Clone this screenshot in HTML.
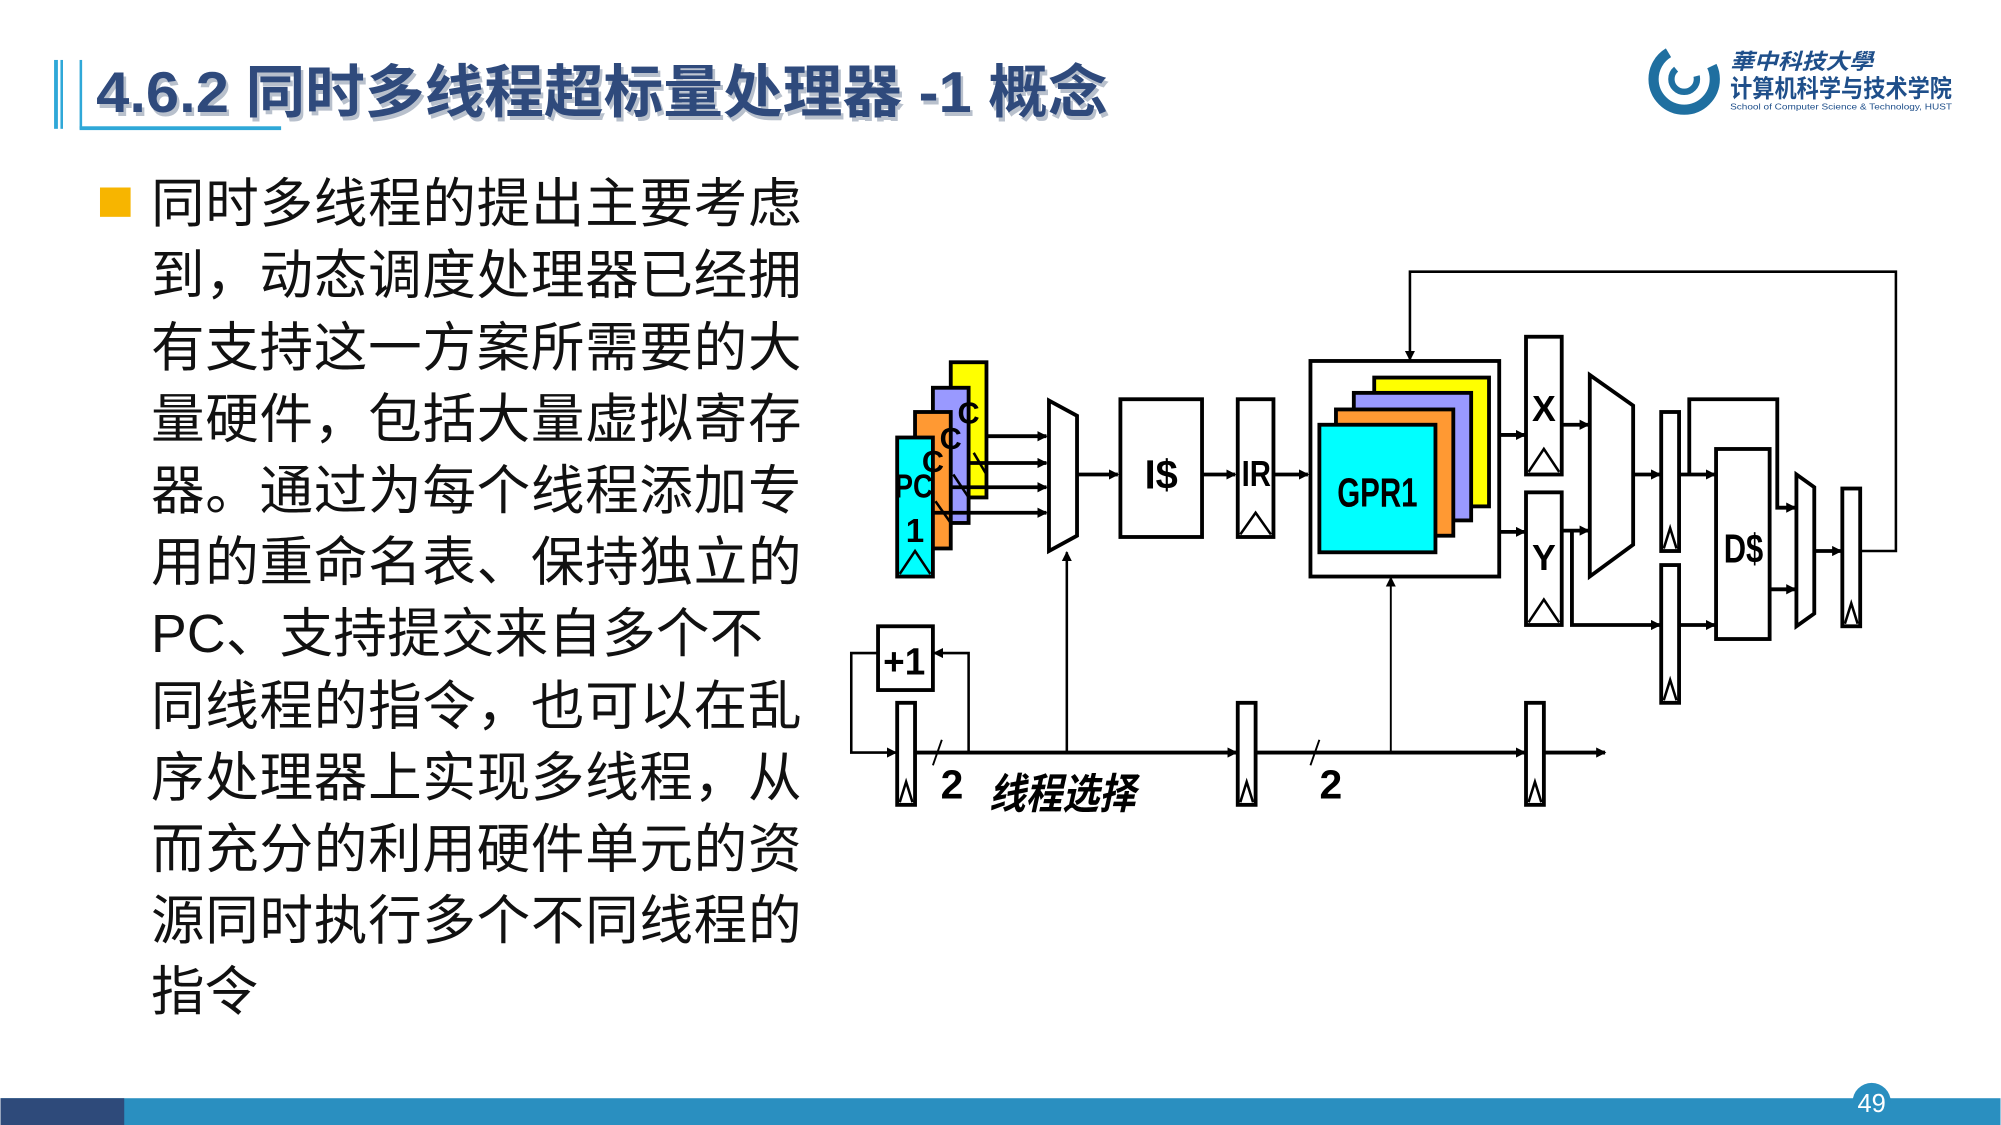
<!DOCTYPE html>
<html><head><meta charset="utf-8"><style>
html,body{margin:0;padding:0;background:#fff;}
svg{display:block;}
text{font-family:"Liberation Sans","Noto Sans CJK SC",sans-serif;}
</style></head><body>
<svg width="2001" height="1125" viewBox="0 0 1568 882" xmlns="http://www.w3.org/2000/svg">
<defs>
<marker id="a" markerWidth="8" markerHeight="8" refX="7" refY="4" orient="auto" markerUnits="userSpaceOnUse"><path d="M0,0 L8,4 L0,8 z" fill="#000"/></marker>
</defs>
<!-- header -->
<rect x="42" y="47" width="3" height="54" fill="#2fa8d8"/>
<rect x="47" y="47" width="2" height="54" fill="#2fa8d8"/>
<rect x="62" y="47" width="2" height="54" fill="#2fa8d8"/>
<rect x="62" y="99" width="158" height="3" fill="#2fa8d8"/>
<text x="77" y="91" font-size="45" font-weight="bold" fill="#b8c0cc" textLength="793" lengthAdjust="spacingAndGlyphs">4.6.2 同时多线程超标量处理器 -1 概念</text>
<text x="75" y="88" font-size="45" font-weight="bold" fill="#2f4a7c" textLength="793" lengthAdjust="spacingAndGlyphs">4.6.2 同时多线程超标量处理器 -1 概念</text>
<!-- logo -->
<circle cx="1320" cy="62" r="24" fill="none" stroke="#1f6fa0" stroke-width="8" stroke-dasharray="100 40"/>
<circle cx="1320" cy="62" r="10" fill="none" stroke="#1f6fa0" stroke-width="5" stroke-dasharray="40 20"/>
<text x="1356" y="54" font-size="17" font-weight="bold" fill="#1f4f8a" font-style="italic" textLength="112" lengthAdjust="spacingAndGlyphs">華中科技大學</text>
<text x="1356" y="76" font-size="19" font-weight="bold" fill="#1f4f8a" textLength="174" lengthAdjust="spacingAndGlyphs">计算机科学与技术学院</text>
<text x="1356" y="86" font-size="6.5" fill="#1f4f8a" textLength="174" lengthAdjust="spacingAndGlyphs">School of Computer Science &amp; Technology, HUST</text>
<!-- bullet text -->
<rect x="78" y="147" width="24" height="23" fill="#f7b500"/>
<g font-size="42" fill="#111">
<text x="118" y="174" textLength="510">同时多线程的提出主要考虑</text>
<text x="118" y="230" textLength="510">到，动态调度处理器已经拥</text>
<text x="118" y="287" textLength="510">有支持这一方案所需要的大</text>
<text x="118" y="343" textLength="510">量硬件，包括大量虚拟寄存</text>
<text x="118" y="399" textLength="510">器。通过为每个线程添加专</text>
<text x="118" y="455" textLength="510">用的重命名表、保持独立的</text>
<text x="118" y="511" textLength="480">PC、支持提交来自多个不</text>
<text x="118" y="568" textLength="510">同线程的指令，也可以在乱</text>
<text x="118" y="624" textLength="510">序处理器上实现多线程，从</text>
<text x="118" y="680" textLength="510">而充分的利用硬件单元的资</text>
<text x="118" y="736" textLength="510">源同时执行多个不同线程的</text>
<text x="118" y="792">指令</text>
</g>
<!-- footer -->
<rect x="0" y="861" width="1568" height="21" fill="#2a8fc0"/>
<rect x="0" y="861" width="97" height="21" fill="#2e4a7a"/>
<circle cx="1467" cy="864" r="15" fill="#2a8fc0"/>
<text x="1467" y="872" font-size="20" fill="#fff" text-anchor="middle">49</text>
<!-- diagram -->
<g stroke="#000" stroke-width="3" fill="none">
<rect x="745" y="284" width="28" height="106" fill="#ffff00"/>
<rect x="731" y="304" width="28" height="106" fill="#9999ff"/>
<rect x="717" y="323" width="28" height="107" fill="#ff9933"/>
<rect x="703" y="343" width="28" height="109" fill="#00ffff"/>
<path d="M705,450 L717,432 L729,450" stroke-width="2"/>
<line x1="745" y1="410" x2="733" y2="393" stroke-width="2"/>
<line x1="759" y1="390" x2="747" y2="372" stroke-width="2"/>
<line x1="773" y1="372" x2="763" y2="355" stroke-width="2"/>
<g marker-end="url(#a)">
<line x1="773" y1="342" x2="820" y2="342"/>
<line x1="759" y1="363" x2="820" y2="363"/>
<line x1="745" y1="382" x2="820" y2="382"/>
<line x1="731" y1="402" x2="820" y2="402"/>
</g>
<path d="M822,314 L844,326 L844,420 L822,432 Z" fill="#fff"/>
<line x1="844" y1="372" x2="876" y2="372" marker-end="url(#a)"/>
<rect x="878" y="313" width="64" height="108" fill="#fff"/>
<line x1="942" y1="372" x2="968" y2="372" marker-end="url(#a)"/>
<rect x="970" y="313" width="28" height="108" fill="#fff"/>
<path d="M972,419 L984,402 L996,419" stroke-width="2"/>
<line x1="998" y1="372" x2="1025" y2="372" marker-end="url(#a)"/>
<rect x="1027" y="283" width="148" height="169" fill="#fff"/>
<rect x="1077" y="296" width="90" height="101" fill="#ffff00"/>
<rect x="1061" y="308" width="92" height="100" fill="#9999ff"/>
<rect x="1047" y="321" width="92" height="99" fill="#ff9933"/>
<rect x="1034" y="333" width="91" height="100" fill="#00ffff"/>
<line x1="1175" y1="341" x2="1195" y2="341" marker-end="url(#a)"/>
<line x1="1175" y1="417" x2="1195" y2="417" marker-end="url(#a)"/>
<rect x="1196" y="264" width="28" height="108" fill="#fff"/>
<path d="M1198,370 L1210,352 L1222,370" stroke-width="2"/>
<rect x="1196" y="386" width="28" height="104" fill="#fff"/>
<path d="M1198,488 L1210,470 L1222,488" stroke-width="2"/>
<line x1="1224" y1="333" x2="1245" y2="333" marker-end="url(#a)"/>
<line x1="1224" y1="416" x2="1245" y2="416" marker-end="url(#a)"/>
<path d="M1246,294 L1280,318 L1280,427 L1246,452 Z" fill="#fff"/>
<line x1="1280" y1="372" x2="1301" y2="372" marker-end="url(#a)"/>
<polyline points="1232,416 1232,490 1301,490" marker-end="url(#a)"/>
<rect x="1302" y="323" width="14" height="109" fill="#fff"/>
<path d="M1304,430 L1309,414 L1314,430" stroke-width="2"/>
<rect x="1302" y="443" width="14" height="108" fill="#fff"/>
<path d="M1304,549 L1309,533 L1314,549" stroke-width="2"/>
<line x1="1316" y1="372" x2="1344" y2="372" marker-end="url(#a)"/>
<line x1="1316" y1="490" x2="1344" y2="490" marker-end="url(#a)"/>
<polyline points="1324,372 1324,313 1393,313 1393,398 1407,398" marker-end="url(#a)"/>
<rect x="1345" y="352" width="42" height="149" fill="#fff"/>
<line x1="1387" y1="462" x2="1407" y2="462" marker-end="url(#a)"/>
<path d="M1408,372 L1422,382 L1422,481 L1408,491 Z" fill="#fff"/>
<line x1="1422" y1="432" x2="1443" y2="432" marker-end="url(#a)"/>
<rect x="1444" y="383" width="14" height="108" fill="#fff"/>
<path d="M1446,489 L1451,473 L1456,489" stroke-width="2"/>
<polyline points="1458,432 1486,432 1486,213 1105,213 1105,282" stroke-width="2" marker-end="url(#a)"/>
<!-- bottom -->
<rect x="688" y="491" width="43" height="50" fill="#fff"/>
<polyline points="688,512 667,512 667,590 702,590" stroke-width="2" marker-end="url(#a)"/>
<rect x="703" y="551" width="14" height="80" fill="#fff"/>
<path d="M705,629 L710,613 L715,629" stroke-width="2"/>
<line x1="717" y1="590" x2="969" y2="590" marker-end="url(#a)"/>
<polyline points="759,590 759,512 732,512" stroke-width="2" marker-end="url(#a)"/>
<line x1="836" y1="590" x2="836" y2="433" stroke-width="2" marker-end="url(#a)"/>
<line x1="731" y1="600" x2="738" y2="580" stroke-width="1.5"/>
<rect x="970" y="551" width="14" height="80" fill="#fff"/>
<path d="M972,629 L977,613 L982,629" stroke-width="2"/>
<line x1="984" y1="590" x2="1195" y2="590" marker-end="url(#a)"/>
<line x1="1090" y1="590" x2="1090" y2="453" stroke-width="1.5" marker-end="url(#a)"/>
<line x1="1027" y1="600" x2="1034" y2="580" stroke-width="1.5"/>
<rect x="1196" y="551" width="14" height="80" fill="#fff"/>
<path d="M1198,629 L1203,613 L1208,629" stroke-width="2"/>
<line x1="1210" y1="590" x2="1258" y2="590" marker-end="url(#a)"/>
</g>
<g font-weight="bold" fill="#000">
<text x="759" y="332" font-size="24" text-anchor="middle">C</text>
<text x="745" y="352" font-size="24" text-anchor="middle">C</text>
<text x="731" y="370" font-size="24" text-anchor="middle">C</text>
<text x="701" y="390" font-size="26" textLength="30" lengthAdjust="spacingAndGlyphs">PC</text>
<text x="717" y="425" font-size="26" text-anchor="middle">1</text>
<text x="897" y="383" font-size="32" textLength="26" lengthAdjust="spacingAndGlyphs">I$</text>
<text x="973" y="381" font-size="28" textLength="23" lengthAdjust="spacingAndGlyphs">IR</text>
<text x="1048" y="397" font-size="32" textLength="63" lengthAdjust="spacingAndGlyphs">GPR1</text>
<text x="1210" y="330" font-size="28" text-anchor="middle">X</text>
<text x="1210" y="447" font-size="28" text-anchor="middle">Y</text>
<text x="1351" y="441" font-size="32" textLength="31" lengthAdjust="spacingAndGlyphs">D$</text>
<text x="692" y="529" font-size="30" textLength="33" lengthAdjust="spacingAndGlyphs">+1</text>
<text x="746" y="626" font-size="32" text-anchor="middle">2</text>
<text x="1043" y="626" font-size="32" text-anchor="middle">2</text>
<text x="775" y="634" font-size="33" font-style="italic" textLength="115" lengthAdjust="spacingAndGlyphs">线程选择</text>
</g>
</svg>
</body></html>
